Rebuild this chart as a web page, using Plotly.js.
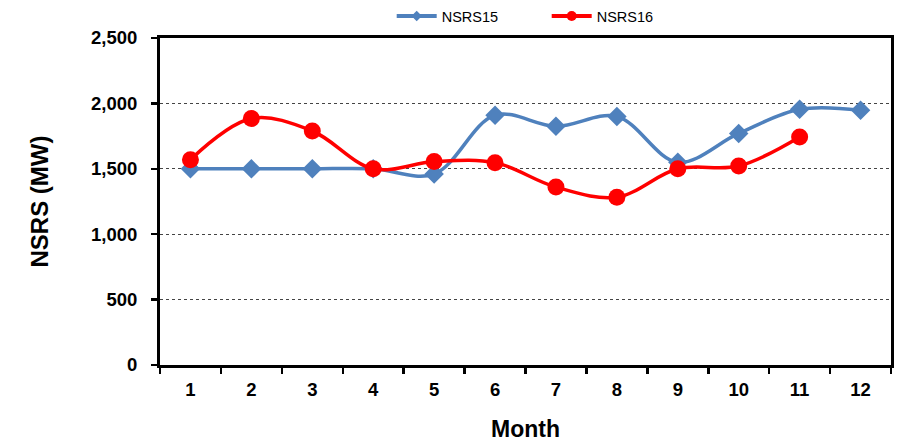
<!DOCTYPE html>
<html>
<head>
<meta charset="utf-8">
<script src="https://cdn.plot.ly/plotly-3.0.1.min.js"></script>
<style>html,body{margin:0;padding:0;background:#fff;}#chart{width:900px;height:443px;}</style>
</head>
<body>
<div id="chart"></div>
<script>
const months = ["1","2","3","4","5","6","7","8","9","10","11","12"];
const nsrs15 = [1500, 1500, 1500, 1500, 1460, 1910, 1825, 1900, 1550, 1770, 1955, 1948];
const nsrs16 = [1570, 1884, 1789, 1500, 1555, 1547, 1360, 1283, 1500, 1521, 1743];
const yTicks = [0, 500, 1000, 1500, 2000, 2500];

const FONT = "Liberation Sans, Arial, sans-serif";
const BLUE = "#4F81BD", RED = "#FF0000";

const traces = [
  {
    x: months, y: nsrs15, name: "NSRS15", type: "scatter", mode: "lines+markers", showlegend: false,
    line: {color: BLUE, width: 3.5, shape: "spline", smoothing: 1},
    marker: {symbol: "diamond", size: 15, color: BLUE}
  },
  {
    x: months.slice(0, nsrs16.length), y: nsrs16, name: "NSRS16", type: "scatter", mode: "lines+markers", showlegend: false,
    line: {color: RED, width: 3.5, shape: "spline", smoothing: 1},
    marker: {symbol: "circle", size: 17, color: RED}
  },
  // legend-only entries (smaller legend symbols, as in the reference)
  {
    x: [null], y: [null], name: "NSRS15", type: "scatter", mode: "lines+markers",
    line: {color: BLUE, width: 4}, marker: {symbol: "diamond", size: 8, color: BLUE}
  },
  {
    x: [null], y: [null], name: "NSRS16", type: "scatter", mode: "lines+markers",
    line: {color: RED, width: 4}, marker: {symbol: "circle", size: 10, color: RED}
  }
];

const layout = {
  width: 900, height: 443,
  margin: {l: 160, r: 9, t: 38, b: 78},
  paper_bgcolor: "#fff", plot_bgcolor: "#fff",
  font: {family: FONT, color: "#000"},
  showlegend: true,
  legend: {
    orientation: "h", x: 0.529, xanchor: "center", y: 1, yanchor: "top",
    yref: "container", font: {size: 14.5, family: FONT},
    itemwidth: 40, entrywidth: 100, traceorder: "normal"
  },
  xaxis: {
    type: "category", range: [-0.5, 11.5], tickson: "boundaries", ticks: "outside", ticklen: 6, tickwidth: 2.5, tickcolor: "#000",
    showline: true, linecolor: "#000", linewidth: 3, mirror: true, showgrid: false, zeroline: false,
    tickfont: {size: 18.5, family: FONT, weight: "bold"},
    ticklabelstandoff: 6,
    title: {text: "Month", font: {size: 23, family: FONT, weight: "bold"}, standoff: 22},
    fixedrange: true
  },
  yaxis: {
    range: [0, 2500], tickmode: "array", tickvals: yTicks, tickformat: ",d",
    ticks: "outside", ticklen: 6, tickwidth: 2.5, tickcolor: "#000",
    showline: true, linecolor: "#000", linewidth: 3, mirror: true,
    showgrid: true, gridcolor: "#444", gridwidth: 1, griddash: "dot", zeroline: false,
    tickfont: {size: 18.5, family: FONT, weight: "bold"},
    ticklabelstandoff: 10,
    title: {text: "NSRS (MW)", font: {size: 24, family: FONT, weight: "bold"}, standoff: 36},
    fixedrange: true
  }
};

Plotly.newPlot("chart", traces, layout, {displayModeBar: false, staticPlot: true});
</script>
</body>
</html>
